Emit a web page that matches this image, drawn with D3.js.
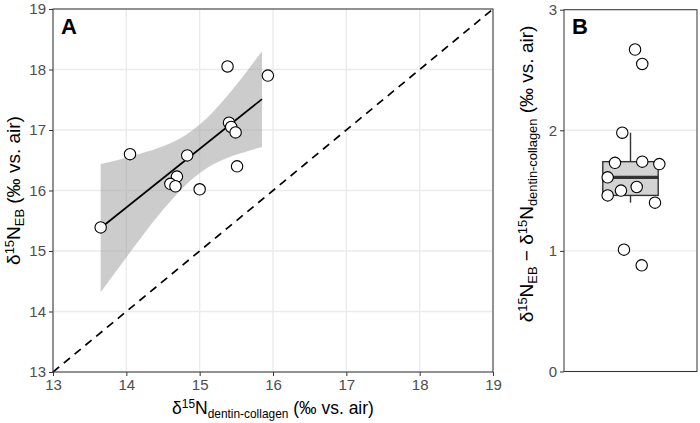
<!DOCTYPE html>
<html>
<head>
<meta charset="utf-8">
<script src="https://cdn.jsdelivr.net/npm/d3@7"></script>
<style>
  html, body { margin: 0; padding: 0; background: #fff; }
  svg { display: block; font-family: "Liberation Sans", Arial, Helvetica, sans-serif; }
</style>
</head>
<body>
<svg id="chart" width="700" height="423"></svg>
<script>
// ---- Data ----
// Panel A: points as plotted
const dentinCollagen = [14.05, 15.38, 15.93, 15.40, 15.43, 15.49, 14.83, 15.51, 14.69, 14.60, 14.67, 15.00, 13.65];
const eyebrow        = [16.60, 18.05, 17.90, 17.12, 17.05, 16.96, 16.58, 16.40, 16.23, 16.11, 16.07, 16.02, 15.39];
// Panel A: fitted line and its 95% confidence band
const fitX   = [13.65, 15.85];
const fitY   = [15.38, 17.51];
const bandX  = [13.65, 13.90, 14.20, 14.50, 14.80, 15.10, 15.40, 15.65, 15.85];
const bandLo = [14.32, 14.73, 15.22, 15.68, 16.08, 16.37, 16.55, 16.65, 16.72];
const bandHi = [16.44, 16.51, 16.61, 16.73, 16.91, 17.20, 17.60, 17.98, 18.30];
// Panel B: differences and their horizontal jitter (category units)
const offsetB = [2.67, 2.55, 1.98, 1.73, 1.74, 1.72, 1.61, 1.53, 1.50, 1.46, 1.40, 1.01, 0.88];
const jitterB = [0.041, 0.106, -0.074, -0.140, 0.106, 0.260, -0.206, 0.056, -0.086, -0.206, 0.221, -0.059, 0.101];
const ticksA = [13, 14, 15, 16, 17, 18, 19];
const ticksB = [0, 1, 2, 3];

const svg = d3.select("#chart");
const FONT_X = 17.5, FONT_Y = 19, FONT_TICK = 15;
const GRID = "#ebebeb", BORDER = "#333333", TICKTXT = "#4d4d4d";

// ---- scales ----
const xA = d3.scaleLinear().domain([13, 19]).range([53, 493]);
const yA = d3.scaleLinear().domain([13, 19]).range([372, 9]);
const xB = d3.scaleLinear().domain([0.4, 1.6]).range([564, 697]);
const yB = d3.scaleLinear().domain([0, 3]).range([371.5, 9.7]);

// rich text helper (superscripts / subscripts)
function rich(sel, parts, F) {
  let shift = 0;
  parts.forEach(p => {
    const target = p.k === "sup" ? -0.34 * F : (p.k === "sub" ? 0.2 * F : 0);
    sel.append("tspan").text(p.t)
      .attr("dy", target - shift)
      .attr("font-size", p.k ? 0.68 * F : F);
    shift = target;
  });
}

// ================= Panel A =================
const gA = svg.append("g");
gA.append("g").selectAll("line").data(ticksA).join("line")
  .attr("x1", d => xA(d)).attr("x2", d => xA(d)).attr("y1", yA(13)).attr("y2", yA(19))
  .attr("stroke", GRID).attr("stroke-width", 1.4);
gA.append("g").selectAll("line").data(ticksA).join("line")
  .attr("y1", d => yA(d)).attr("y2", d => yA(d)).attr("x1", xA(13)).attr("x2", xA(19))
  .attr("stroke", GRID).attr("stroke-width", 1.4);

// confidence band
const band = bandX.map((x, i) => ({ x, lo: bandLo[i], hi: bandHi[i] }));
gA.append("path").datum(band)
  .attr("d", d3.area().curve(d3.curveMonotoneX).x(d => xA(d.x)).y0(d => yA(d.lo)).y1(d => yA(d.hi)))
  .attr("fill", "#999999").attr("fill-opacity", 0.5);

// 1:1 line
gA.append("line")
  .attr("x1", xA(13)).attr("y1", yA(13)).attr("x2", xA(19)).attr("y2", yA(19))
  .attr("stroke", "#000").attr("stroke-width", 1.7).attr("stroke-dasharray", "8,6");

// fitted line
gA.append("path").datum(fitX.map((x, i) => [x, fitY[i]]))
  .attr("d", d3.line().x(d => xA(d[0])).y(d => yA(d[1])))
  .attr("fill", "none").attr("stroke", "#000").attr("stroke-width", 1.7);

// points
gA.append("g").selectAll("circle").data(dentinCollagen.map((x, i) => [x, eyebrow[i]])).join("circle")
  .attr("cx", d => xA(d[0])).attr("cy", d => yA(d[1])).attr("r", 5.7)
  .attr("fill", "#fff").attr("stroke", "#000").attr("stroke-width", 1.1);

// border
gA.append("rect").attr("x", xA(13)).attr("y", yA(19)).attr("width", xA(19) - xA(13)).attr("height", yA(13) - yA(19))
  .attr("fill", "none").attr("stroke", BORDER).attr("stroke-width", 1);

// axes
const axXA = gA.append("g").attr("transform", `translate(0,${yA(13)})`)
  .call(d3.axisBottom(xA).tickValues(ticksA).tickSize(4).tickPadding(3).tickFormat(d3.format("d")));
const axYA = gA.append("g").attr("transform", `translate(${xA(13)},0)`)
  .call(d3.axisLeft(yA).tickValues(ticksA).tickSize(4).tickPadding(3).tickFormat(d3.format("d")));
[axXA, axYA].forEach(a => {
  a.select(".domain").remove();
  a.selectAll(".tick line").attr("stroke", BORDER);
  a.selectAll(".tick text").attr("fill", TICKTXT).attr("font-size", FONT_TICK).attr("font-family", null);
});

gA.append("text").attr("x", 61).attr("y", 34).text("A")
  .attr("font-size", 22).attr("font-weight", "bold").attr("fill", "#000");

const tx = gA.append("text").attr("x", (xA(13) + xA(19)) / 2).attr("y", 414).attr("text-anchor", "middle").attr("fill", "#000");
rich(tx, [{t: "δ"}, {t: "15", k: "sup"}, {t: "N"}, {t: "dentin-collagen", k: "sub"}, {t: " (‰ vs. air)"}], FONT_X);

const ty = gA.append("text").attr("transform", `translate(20,${(yA(13) + yA(19)) / 2}) rotate(-90)`).attr("text-anchor", "middle").attr("fill", "#000");
rich(ty, [{t: "δ"}, {t: "15", k: "sup"}, {t: "N"}, {t: "EB", k: "sub"}, {t: " (‰ vs. air)"}], FONT_Y);

// ================= Panel B =================
const gB = svg.append("g");
gB.append("g").selectAll("line").data(ticksB).join("line")
  .attr("y1", d => yB(d)).attr("y2", d => yB(d)).attr("x1", xB(0.4)).attr("x2", xB(1.6))
  .attr("stroke", GRID).attr("stroke-width", 1.4);

const sorted = offsetB.slice().sort(d3.ascending);
const q1 = d3.quantile(sorted, 0.25), med = d3.quantile(sorted, 0.5), q3 = d3.quantile(sorted, 0.75);
const iqr = q3 - q1;
const wLo = d3.min(sorted.filter(v => v >= q1 - 1.5 * iqr));
const wHi = d3.max(sorted.filter(v => v <= q3 + 1.5 * iqr));
const bw = 0.25;
gB.append("line").attr("x1", xB(1)).attr("x2", xB(1)).attr("y1", yB(q3)).attr("y2", yB(wHi))
  .attr("stroke", BORDER).attr("stroke-width", 1.4);
gB.append("line").attr("x1", xB(1)).attr("x2", xB(1)).attr("y1", yB(q1)).attr("y2", yB(wLo))
  .attr("stroke", BORDER).attr("stroke-width", 1.4);
gB.append("rect").attr("x", xB(1 - bw)).attr("width", xB(1 + bw) - xB(1 - bw))
  .attr("y", yB(q3)).attr("height", yB(q1) - yB(q3))
  .attr("fill", "#d3d3d3").attr("stroke", BORDER).attr("stroke-width", 1.4);
gB.append("line").attr("x1", xB(1 - bw)).attr("x2", xB(1 + bw)).attr("y1", yB(med)).attr("y2", yB(med))
  .attr("stroke", BORDER).attr("stroke-width", 3.4);

gB.append("g").selectAll("circle").data(offsetB.map((v, i) => [1 + jitterB[i], v])).join("circle")
  .attr("cx", d => xB(d[0])).attr("cy", d => yB(d[1])).attr("r", 5.7)
  .attr("fill", "#fff").attr("stroke", "#000").attr("stroke-width", 1.1);

gB.append("rect").attr("x", xB(0.4)).attr("y", yB(3)).attr("width", xB(1.6) - xB(0.4)).attr("height", yB(0) - yB(3))
  .attr("fill", "none").attr("stroke", BORDER).attr("stroke-width", 1);

const axYB = gB.append("g").attr("transform", `translate(${xB(0.4)},0)`)
  .call(d3.axisLeft(yB).tickValues(ticksB).tickSize(4).tickPadding(3).tickFormat(d3.format("d")));
axYB.select(".domain").remove();
axYB.selectAll(".tick line").attr("stroke", BORDER);
axYB.selectAll(".tick text").attr("fill", TICKTXT).attr("font-size", FONT_TICK).attr("font-family", null);

gB.append("text").attr("x", 572).attr("y", 34).text("B")
  .attr("font-size", 22).attr("font-weight", "bold").attr("fill", "#000");

const tyB = gB.append("text").attr("transform", `translate(533,174) rotate(-90)`).attr("text-anchor", "middle").attr("fill", "#000");
rich(tyB, [{t: "δ"}, {t: "15", k: "sup"}, {t: "N"}, {t: "EB", k: "sub"}, {t: " − δ"}, {t: "15", k: "sup"}, {t: "N"}, {t: "dentin-collagen", k: "sub"}, {t: " (‰ vs. air)"}], FONT_Y);
</script>
</body>
</html>
